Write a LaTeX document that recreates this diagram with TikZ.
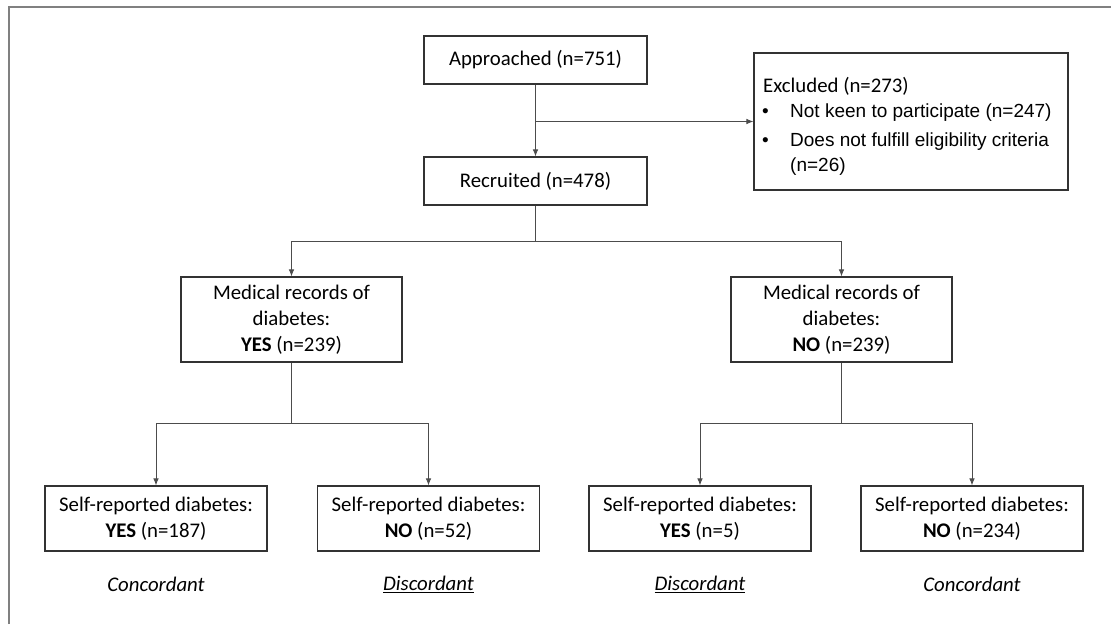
\documentclass[tikz,border=0pt]{standalone}
\usepackage{fontspec}
\setmainfont{Carlito}
\newfontfamily\arialf{Liberation Sans}
\usetikzlibrary{arrows.meta,calc}
\begin{document}
\begin{tikzpicture}[x=1pt,y=-1pt,
  box/.style={draw=black!80,line width=1.1pt,rectangle,inner sep=0pt,align=center,
    font=\fontsize{20.8}{26}\selectfont},
  conn/.style={draw=black!70,line width=0.9pt},
  arr/.style={conn,-{Latex[length=7pt,width=5.5pt]}},
  lab/.style={font=\fontsize{20.8}{26}\selectfont\itshape,inner sep=0pt},
  txt/.style={inner sep=0pt,anchor=base west},
  arl/.style={txt,font=\arialf\fontsize{19}{23}\selectfont}]
\useasboundingbox (0,0) rectangle (1111,624);
\fill[white] (0,0) rectangle (1111,624);
\draw[black!50,line width=2pt] (9,624) -- (9,7) -- (1111,7);

\node[box,minimum width=223pt,minimum height=48pt] (app) at (535.5,60) {Approached (n=751)};
\node[box,minimum width=223pt,minimum height=48pt] (rec) at (535.5,181) {Recruited (n=478)};
\node[box,minimum width=314pt,minimum height=137pt] (exc) at (911,121.5) {};
\node[txt,font=\fontsize{20.8}{26}\selectfont] (exct) at (763,92) {Excluded (n=273)};
\node[arl] (bul1) at (762,117) {•};
\node[arl] (b1) at (790,117) {Not keen to participate (n=247)};
\node[arl] (bul2) at (762,146) {•};
\node[arl] (b2) at (790,146) {Does not fulfill eligibility criteria};
\node[arl] (b3) at (790,171) {(n=26)};

\node[box,minimum width=221pt,minimum height=85pt] (mry) at (291.5,319.5) {Medical records of\\diabetes:\\\textbf{YES} (n=239)};
\node[box,minimum width=221pt,minimum height=85pt] (mrn) at (841.5,319.5) {Medical records of\\diabetes:\\\textbf{NO} (n=239)};

\node[box,minimum width=222pt,minimum height=65pt] (sy1) at (156,518.5) {Self-reported diabetes:\\\textbf{YES} (n=187)};
\node[box,minimum width=222pt,minimum height=65pt] (sn1) at (428.5,518.5) {Self-reported diabetes:\\\textbf{NO} (n=52)};
\node[box,minimum width=222pt,minimum height=65pt] (sy2) at (700,518.5) {Self-reported diabetes:\\\textbf{YES} (n=5)};
\node[box,minimum width=222pt,minimum height=65pt] (sn2) at (972,518.5) {Self-reported diabetes:\\\textbf{NO} (n=234)};

\node[lab] (l1) at (156,584) {Concordant};
\node[lab] (l2) at (428.5,584) {\underline{Discordant}};
\node[lab] (l3) at (700,584) {\underline{Discordant}};
\node[lab] (l4) at (972,584) {Concordant};

\coordinate (j0) at (535.5,121.5);
\coordinate (j1) at (535.5,241);
\coordinate (j2) at (291.5,423);
\coordinate (j3) at (841.5,423);

\draw[arr] (app.south) -- (rec.north);
\draw[arr] (j0) -- (exc.west);
\draw[conn] (rec.south) -- (j1);
\draw[arr] (j1) -| (mry.north);
\draw[arr] (j1) -| (mrn.north);
\draw[conn] (mry.south) -- (j2);
\draw[arr] (j2) -| (sy1.north);
\draw[arr] (j2) -| (sn1.north);
\draw[conn] (mrn.south) -- (j3);
\draw[arr] (j3) -| (sy2.north);
\draw[arr] (j3) -| (sn2.north);
\end{tikzpicture}
\end{document}
